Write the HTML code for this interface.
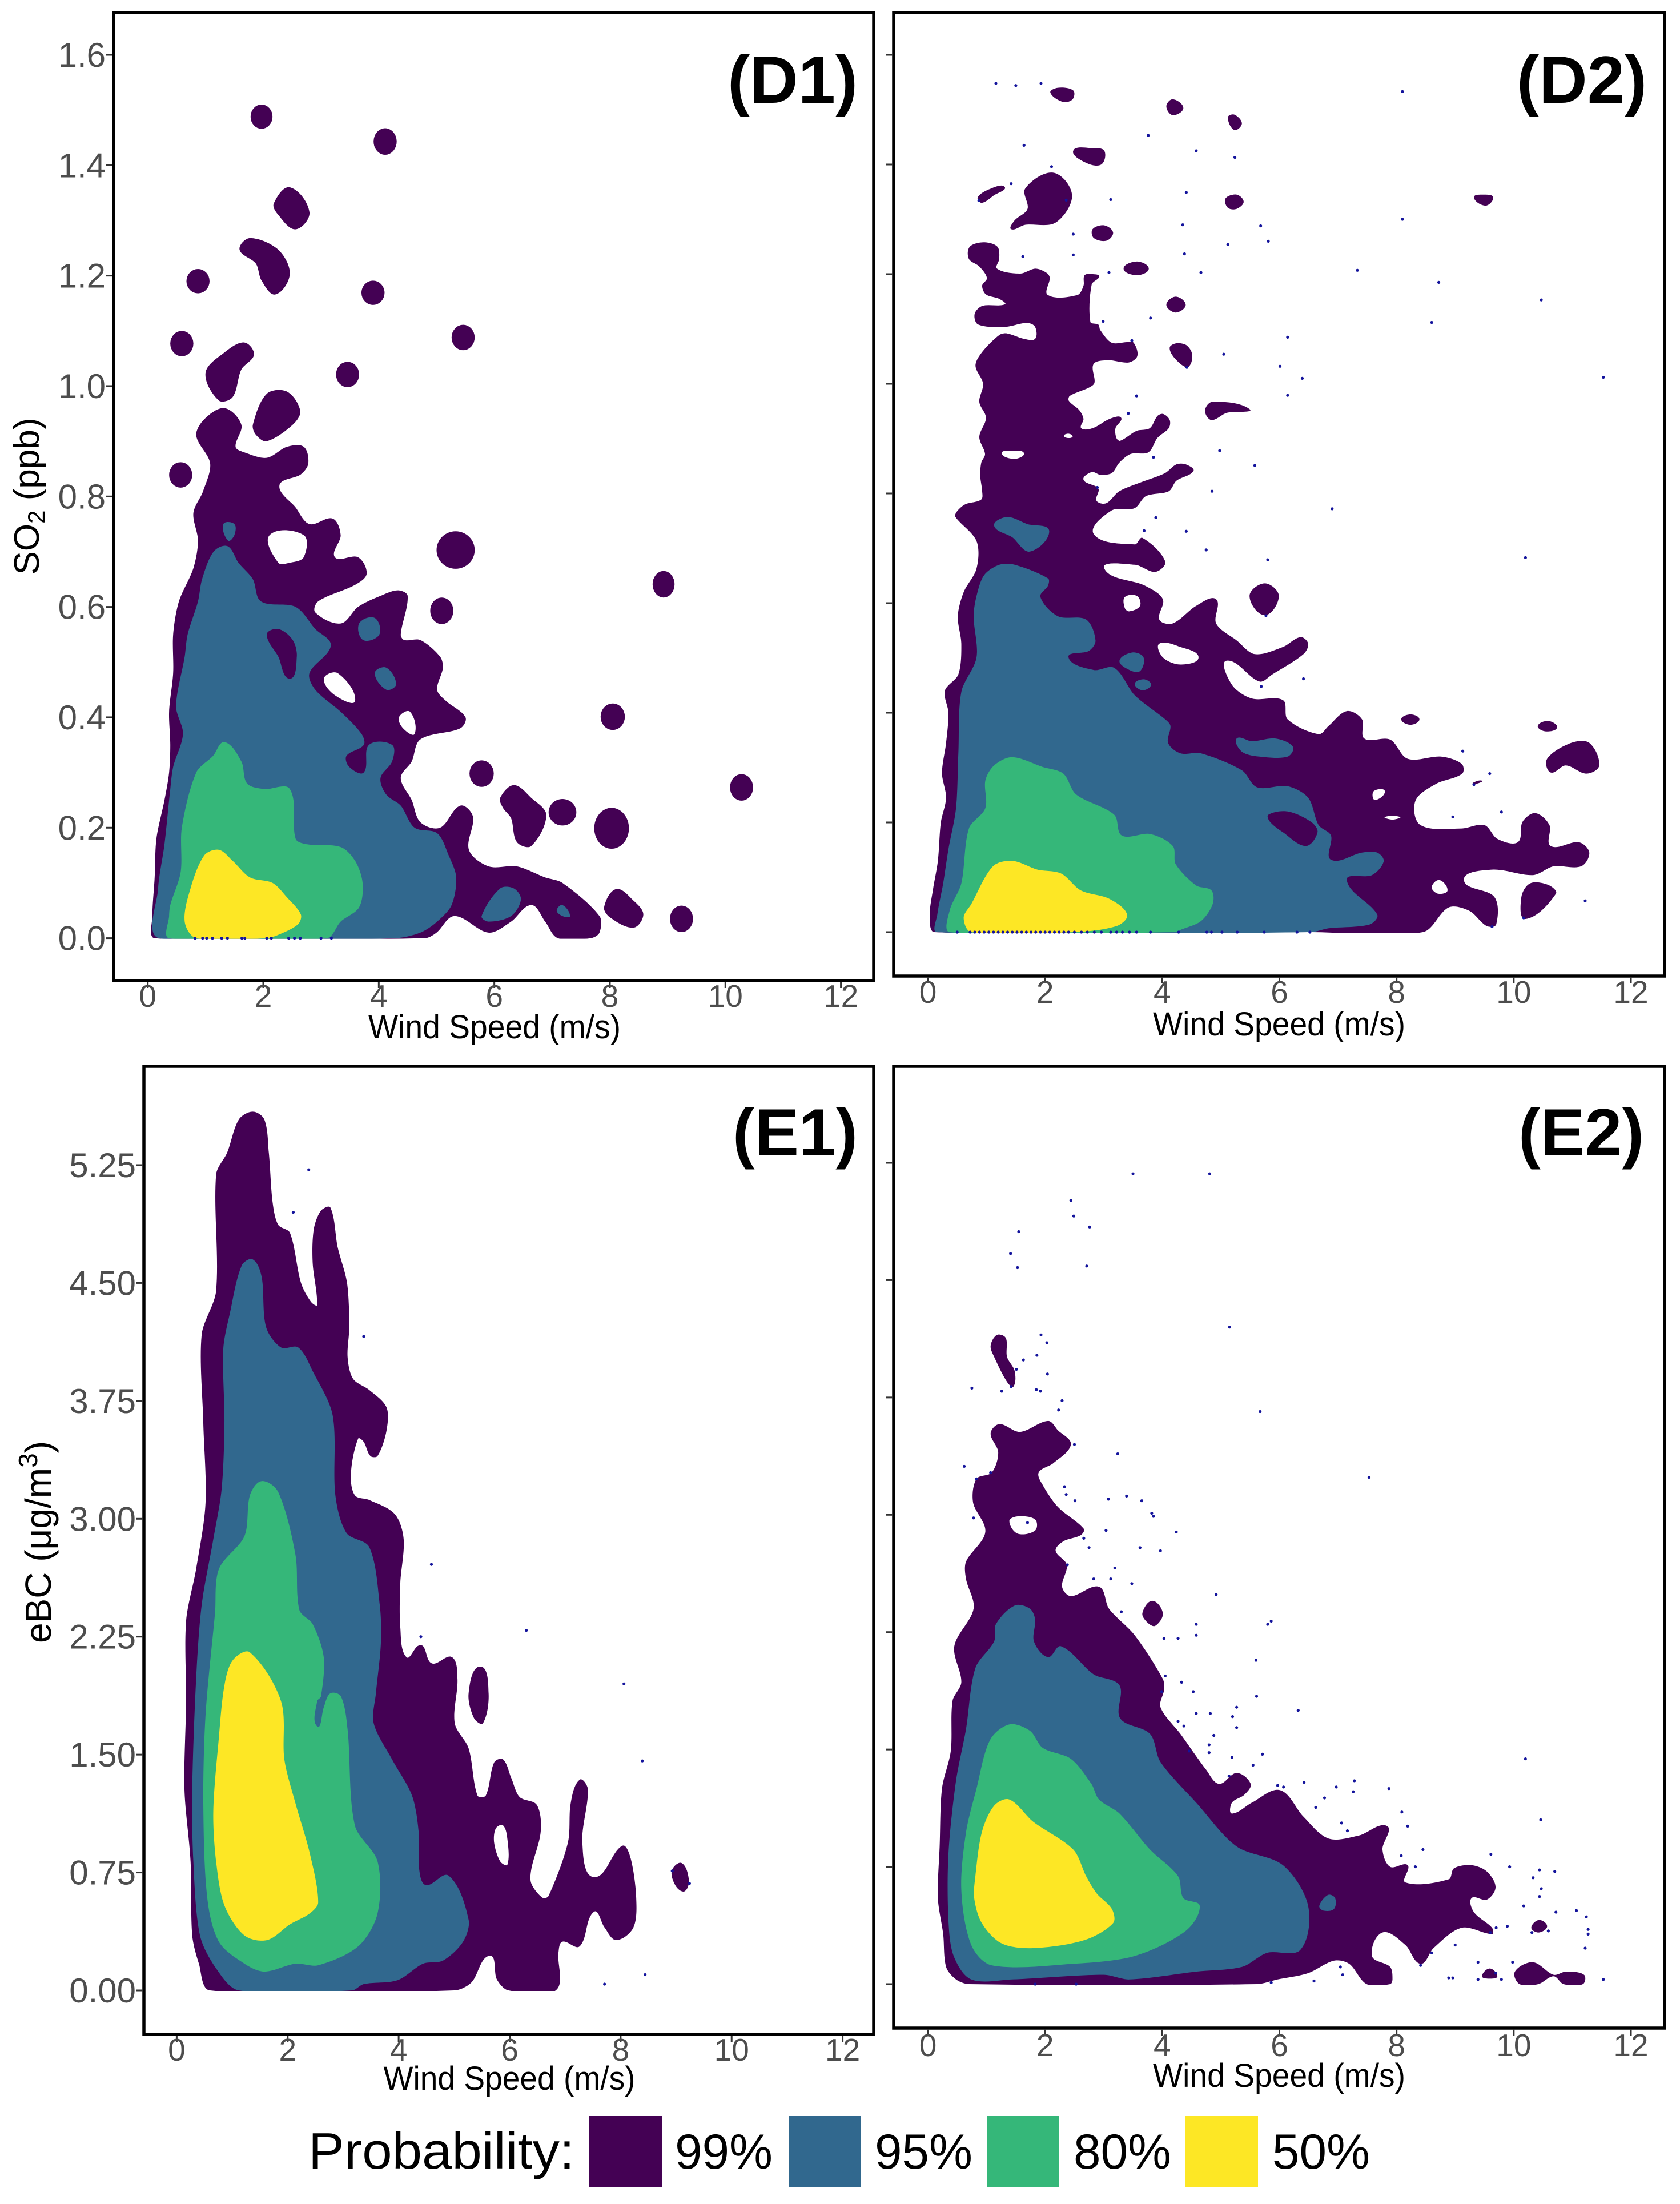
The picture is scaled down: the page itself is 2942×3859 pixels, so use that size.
<!DOCTYPE html>
<html>
<head>
<meta charset="utf-8">
<title>Wind speed density panels</title>
<style>
html,body{margin:0;padding:0;background:#fff;}
svg{display:block;font-family:"Liberation Sans",sans-serif;}
</style>
</head>
<body>
<svg id="chart" xmlns="http://www.w3.org/2000/svg" width="2942" height="3859" viewBox="0 0 2942 3859">
<rect x="0" y="0" width="2942" height="3859" fill="#fff"/>
<g id="marks"></g>
<g font-weight="bold" font-size="117" fill="#000">
<text x="1274" y="180" textLength="228" lengthAdjust="spacingAndGlyphs">(D1)</text>
<text x="2656" y="180" textLength="228" lengthAdjust="spacingAndGlyphs">(D2)</text>
<text x="1283" y="2023" textLength="219" lengthAdjust="spacingAndGlyphs">(E1)</text>
<text x="2659" y="2023" textLength="220" lengthAdjust="spacingAndGlyphs">(E2)</text>
</g>
<g font-size="58" fill="#000">
<text x="866" y="1818" text-anchor="middle" textLength="442" lengthAdjust="spacingAndGlyphs">Wind Speed (m/s)</text>
<text x="2240" y="1813" text-anchor="middle" textLength="442" lengthAdjust="spacingAndGlyphs">Wind Speed (m/s)</text>
<text x="892" y="3659" text-anchor="middle" textLength="441" lengthAdjust="spacingAndGlyphs">Wind Speed (m/s)</text>
<text x="2240" y="3654" text-anchor="middle" textLength="442" lengthAdjust="spacingAndGlyphs">Wind Speed (m/s)</text>
<text transform="translate(68,869) rotate(-90)" text-anchor="middle" font-size="62">SO<tspan font-size="42" dy="10">2</tspan><tspan dy="-10"> (ppb)</tspan></text>
<text transform="translate(89,2700) rotate(-90)" text-anchor="middle" font-size="64">eBC (μg/m<tspan font-size="46" dy="-24">3</tspan><tspan dy="24">)</tspan></text>
</g>
<g>
<text x="540" y="3797" font-size="90" textLength="466" lengthAdjust="spacingAndGlyphs" fill="#000">Probability:</text>
<rect x="1032" y="3705" width="127" height="124" fill="#440154"/>
<text x="1182" y="3797" font-size="86" textLength="171" lengthAdjust="spacingAndGlyphs" fill="#000">99%</text>
<rect x="1381" y="3705" width="126" height="124" fill="#31688E"/>
<text x="1532" y="3797" font-size="86" textLength="171" lengthAdjust="spacingAndGlyphs" fill="#000">95%</text>
<rect x="1728" y="3705" width="127" height="124" fill="#35B779"/>
<text x="1880" y="3797" font-size="86" textLength="171" lengthAdjust="spacingAndGlyphs" fill="#000">80%</text>
<rect x="2075" y="3705" width="128" height="124" fill="#FDE725"/>
<text x="2228" y="3797" font-size="86" textLength="171" lengthAdjust="spacingAndGlyphs" fill="#000">50%</text>
</g>
</svg>
<script>
// Tick values
const xTickValues = [0, 2, 4, 6, 8, 10, 12];
const so2TickValues = [0, 0.2, 0.4, 0.6, 0.8, 1.0, 1.2, 1.4, 1.6];
const so2TickLabels = ["0.0", "0.2", "0.4", "0.6", "0.8", "1.0", "1.2", "1.4", "1.6"];
const ebcTickValues = [0, 0.75, 1.5, 2.25, 3, 3.75, 4.5, 5.25];
const ebcTickLabels = ["0.00", "0.75", "1.50", "2.25", "3.00", "3.75", "4.50", "5.25"];

// Contours in data units: flat lists wind,value,wind,value...
const d1Level99 = [
[.12,0,.08,.04,.12,.11,.15,.18,.29,.25,.37,.3,.39,.35,.37,.41,.44,.48,.44,.55,.54,.61,.79,.67,.87,.72,.79,.77,.96,.81,1.08,.86,.84,.91,.98,.94,1.33,.96,1.62,.93,1.52,.89,1.67,.88,2.06,.87,2.41,.89,2.7,.89,2.78,.86,2.65,.84,2.28,.82,2.56,.78,2.8,.75,3.2,.76,3.34,.73,3.24,.69,3.64,.69,3.79,.66,3.59,.64,2.95,.61,2.9,.59,3.34,.57,3.64,.6,4.03,.62,4.33,.63,4.5,.62,4.38,.55,4.44,.54,4.72,.54,5.06,.51,5.11,.49,5.01,.45,5.16,.43,5.5,.4,5.41,.38,4.72,.36,4.57,.32,4.38,.29,4.57,.25,4.72,.21,5.06,.2,5.41,.24,5.63,.22,5.56,.16,5.9,.13,6.39,.13,6.88,.11,7.18,.10,7.82,.04,7.82,.01,7.67,0,7.1,0,6.88,.03,6.64,.06,6.29,.03,5.9,.01,5.31,.04,5.0,.01,4.8,0],
[2.11,.73,2.7,.73,2.7,.69,2.46,.68,2.26,.68],
[3.05,.47,3.29,.48,3.59,.43,3.24,.44],
[4.35,.40,4.54,.41,4.62,.37,4.42,.38],
[2.18,1.33,2.46,1.36,2.8,1.315,2.56,1.284,2.26,1.31],
[1.59,1.247,1.77,1.268,2.26,1.247,2.46,1.203,2.21,1.166,1.97,1.191,1.87,1.222],
[1.0,1.024,1.33,1.061,1.67,1.079,1.84,1.057,1.62,1.03,1.47,.98,1.23,.974],
[1.82,.93,2.06,.986,2.41,.99,2.64,.955,2.51,.93,2.06,.9,1.87,.912],
[6.1,.254,6.34,.277,6.64,.254,6.9,.223,6.64,.167,6.39,.174,6.29,.217,6.15,.236],
[7.9,.056,8.11,.089,8.41,.068,8.58,.043,8.41,.019,8.01,.037]
];
const d1Blobs99 = [
[1.97,1.488,.19,.022],[4.11,1.443,.2,.024],[.87,1.19,.2,.022],[3.9,1.169,.2,.022],[.59,1.077,.2,.023],[5.46,1.088,.2,.023],[3.46,1.021,.2,.023],[.57,.839,.2,.023],[8.93,.641,.19,.024],[5.09,.593,.2,.024],[8.05,.401,.21,.024],[5.78,.298,.21,.024],[10.28,.273,.2,.024],[7.18,.228,.24,.024],[8.03,.199,.3,.037],[9.24,.035,.2,.024],[5.33,.703,.33,.034]
];
const d1Level95 = [
[.2,0,.18,.09,.29,.17,.39,.27,.44,.31,.61,.37,.49,.42,.64,.51,.69,.55,.87,.61,.94,.65,1.14,.70,1.38,.71,1.57,.68,1.82,.65,1.96,.61,2.56,.6,2.9,.56,3.17,.53,2.8,.48,2.9,.45,3.34,.41,3.7,.37,3.74,.35,3.44,.33,3.49,.31,3.74,.30,3.83,.35,4.23,.35,4.23,.32,4.03,.29,4.13,.26,4.38,.24,4.62,.2,5.01,.19,5.21,.15,5.34,.11,5.26,.06,5.01,.03,4.72,.01,4.28,0],
[2.06,.55,2.26,.56,2.51,.54,2.58,.51,2.46,.47,2.26,.51],
[1.31,.75,1.5,.75,1.5,.73,1.39,.72],
[3.66,.57,3.93,.58,4.01,.55,3.73,.54],
[3.93,.48,4.13,.49,4.3,.46,4.13,.45],
[5.78,.04,6.1,.09,6.34,.09,6.46,.07,6.29,.04,5.9,.03],
[7.08,.05,7.18,.06,7.31,.04,7.18,.04]
];
const d1Level80 = [
[.37,0,.37,.04,.39,.06,.57,.12,.59,.2,.84,.3,1.13,.33,1.33,.355,1.62,.32,1.72,.28,2.02,.27,2.46,.27,2.56,.18,2.76,.17,3.34,.165,3.59,.14,3.72,.1,3.66,.056,3.34,.03,3.1,0]
];
const d1Level50 = [
[.64,.03,.74,.09,.98,.15,1.23,.16,1.47,.14,1.77,.11,2.16,.1,2.41,.074,2.65,.043,2.6,.025,2.26,.006,2.06,0,.84,0]
];
const d1PointsX = [.82,.95,1.02,1.12,1.28,1.38,1.63,1.68,2.06,2.14,2.44,2.54,2.64,3.0,3.18];
const d1PointsY = [0,0,0,0,0,0,0,0,0,0,0,0,0,0,0];

const d2Level99 = [
[.11,0,.03,.03,.09,.08,.17,.13,.22,.2,.31,.245,.24,.29,.31,.345,.35,.4,.29,.44,.52,.47,.57,.526,.51,.576,.61,.62,.83,.663,.83,.713,.47,.757,.487,.766,.634,.78,.91,.789,.926,.804,.893,.832,.91,.856,.975,.872,.877,.903,.991,.938,.877,.967,.942,1.0,.812,1.033,.926,1.058,1.218,1.089,1.348,1.092,1.641,1.082,1.829,1.082,1.829,1.104,1.69,1.111,1.316,1.104,.861,1.108,.796,1.127,.926,1.142,1.316,1.145,1.218,1.155,.991,1.163,.926,1.179,1.007,1.193,.877,1.214,.698,1.228,.715,1.25,.958,1.258,1.186,1.25,1.218,1.228,1.18,1.21,1.576,1.201,1.836,1.21,2.031,1.202,2.08,1.193,2.047,1.162,2.551,1.162,2.655,1.179,2.674,1.198,2.811,1.2,2.925,1.196,2.795,1.181,2.772,1.113,2.908,1.108,2.941,1.098,3.136,1.075,3.396,1.076,3.51,1.075,3.575,1.051,3.428,1.039,3.071,1.043,2.827,1.036,2.843,1.002,2.746,.993,2.421,.978,2.405,.969,2.583,.952,2.655,.936,2.616,.919,2.811,.919,3.103,.936,3.298,.938,3.201,.919,3.217,.901,3.282,.896,3.558,.914,3.786,.919,3.916,.941,4.013,.945,4.127,.934,4.111,.919,3.916,.901,3.763,.875,3.461,.872,3.266,.856,3.136,.837,2.941,.834,2.795,.839,2.655,.825,2.908,.809,2.876,.787,3.039,.782,3.266,.804,3.656,.821,4.046,.837,4.241,.853,4.403,.853,4.533,.841,4.241,.823,4.111,.804,3.721,.795,3.526,.773,3.136,.769,2.83,.726,3.53,.707,3.66,.719,4.05,.676,3.88,.657,3.53,.67,3.01,.663,3.7,.632,4.01,.607,3.95,.57,4.18,.563,4.58,.595,4.92,.607,4.92,.563,5.27,.532,5.58,.507,6.06,.52,6.36,.538,6.49,.526,6.41,.507,5.88,.47,5.66,.457,5.1,.495,5.19,.451,5.53,.426,6.06,.423,6.14,.388,6.67,.361,6.84,.376,7.15,.403,7.41,.388,7.45,.353,7.89,.351,8.19,.316,8.76,.32,9.11,.307,9.12,.289,8.67,.27,8.32,.239,8.41,.195,9.11,.189,9.5,.195,9.72,.17,10.07,.164,10.15,.201,10.37,.217,10.61,.195,10.63,.157,11.11,.164,11.29,.145,11.15,.12,10.68,.12,10.33,.104,9.63,.114,9.15,.095,9.67,.064,9.7,.014,9.54,.011,9.24,.039,8.89,.045,8.45,0,6.54,0],
[1.26,.873,1.45,.878,1.64,.873,1.48,.863],
[2.32,.905,2.4,.909,2.47,.904,2.4,.901],
[3.36,.611,3.57,.613,3.62,.595,3.44,.585,3.36,.591],
[3.95,.526,4.31,.52,4.62,.501,4.31,.488,4.01,.501],
[7.61,.257,7.8,.257,7.63,.241],
[7.8,.21,8.06,.21,7.93,.205],
[8.6,.082,8.73,.095,8.87,.076,8.71,.07],
[2.09,1.531,2.22,1.54,2.48,1.535,2.47,1.519,2.31,1.514],
[4.07,1.506,4.18,1.519,4.36,1.503,4.18,1.49],
[5.12,1.486,5.23,1.491,5.36,1.475,5.23,1.463],
[2.48,1.425,2.79,1.43,3.01,1.425,2.96,1.4,2.7,1.403],
[.85,1.34,1.05,1.355,1.31,1.359,1.13,1.344,.92,1.33],
[1.66,1.356,2.14,1.385,2.46,1.344,2.18,1.294,1.66,1.29,1.42,1.282,1.48,1.298,1.7,1.319],
[5.08,1.338,5.27,1.345,5.39,1.332,5.27,1.319,5.12,1.321],
[9.32,1.34,9.5,1.345,9.65,1.34,9.52,1.325],
[2.81,1.282,3.01,1.289,3.16,1.276,3.05,1.261,2.83,1.266],
[3.34,1.21,3.57,1.223,3.77,1.21,3.57,1.198],
[4.07,1.144,4.23,1.159,4.4,1.144,4.23,1.13],
[4.127,1.066,4.241,1.074,4.403,1.071,4.5,1.058,4.5,1.04,4.42,1.03,4.21,1.047],
[4.73,.951,4.85,.967,5.49,.954,5.1,.947,4.84,.934],
[5.49,.613,5.75,.636,5.99,.613,5.75,.578],
[8.08,.388,8.24,.397,8.39,.388,8.24,.378],
[10.41,.376,10.59,.385,10.74,.373,10.54,.366],
[10.57,.316,10.98,.345,11.29,.345,11.46,.304,11.24,.289,10.89,.304,10.63,.291],
[10.13,.064,10.28,.089,10.59,.086,10.72,.07,10.2,.024],
[9.3,.272,9.46,.276,9.35,.27]
];
const d2Blobs99 = [];
const d2Level95 = [
[.15,0,.16,.032,.26,.089,.35,.151,.48,.226,.52,.326,.57,.438,.83,.501,.78,.576,.83,.613,.96,.651,1.22,.67,1.48,.67,2.05,.645,2.05,.632,1.92,.611,2.22,.576,2.7,.57,2.86,.532,2.75,.513,2.4,.501,2.83,.478,3.18,.482,3.53,.432,4.05,.388,4.14,.376,4.1,.345,4.31,.326,4.66,.326,5.36,.295,5.62,.264,6.14,.266,6.49,.245,6.67,.195,6.88,.176,6.88,.132,7.41,.145,7.67,.145,7.78,.129,7.58,.104,7.15,.095,7.67,.032,7.54,.014,6.84,.007,6.54,0],
[5.81,.214,6.14,.22,6.54,.201,6.65,.182,6.45,.157,6.06,.182,5.84,.201],
[1.13,.741,1.35,.757,1.7,.744,2.07,.732,1.74,.694,1.44,.72],
[3.27,.495,3.49,.51,3.68,.501,3.62,.476,3.44,.478],
[3.53,.453,3.69,.461,3.81,.451,3.66,.441],
[5.27,.353,5.53,.348,5.93,.353,6.23,.338,6.14,.32,5.66,.32,5.36,.329]
];
const d2Level80 = [
[.37,0,.37,.039,.57,.089,.7,.189,.98,.226,.98,.276,1.13,.304,1.44,.319,1.96,.301,2.31,.289,2.53,.251,3.18,.214,3.31,.176,3.79,.179,4.18,.157,4.23,.124,4.58,.085,4.84,.076,4.86,.051,4.66,.02,4.31,.004,4.23,0]
];
const d2Level50 = [
[.61,.026,.74,.051,1.11,.12,1.44,.13,1.87,.114,2.27,.107,2.61,.076,3.09,.061,3.4,.032,3.22,.011,2.48,0,.74,0]
];
const d2PointsX = [1.16,1.5,1.93,8.1,3.76,1.64,4.58,5.24,2.11,1.42,4.41,3.12,2.36,.87,5.68,4.35,8.1,2.48,5.81,5.12,1.62,2.48,4.38,3.09,4.66,7.33,8.72,10.47,2.99,3.8,8.6,3.48,6.14,5.05,6.01,4.42,6.39,11.53,3.56,6.14,3.42,4.98,3.85,5.58,2.89,4.85,6.9,3.89,3.69,4.41,4.75,5.8,10.2,5.77,5.69,6.41,9.13,9.59,9.32,8.96,9.79,11.22,9.63,10.17,
.5,.72,.8,.88,.96,1.04,1.12,1.2,1.28,1.36,1.44,1.52,1.6,1.68,1.76,1.84,1.92,2.0,2.08,2.16,2.24,2.32,2.4,2.5,2.62,2.72,2.84,2.96,3.12,3.22,3.32,3.44,3.56,3.8,4.28,4.76,4.84,5.02,5.28,5.74,6.3,6.52];
const d2PointsY = [1.548,1.544,1.548,1.533,1.453,1.435,1.425,1.413,1.396,1.365,1.349,1.336,1.335,1.334,1.288,1.29,1.3,1.273,1.26,1.254,1.232,1.235,1.237,1.203,1.203,1.207,1.185,1.153,1.114,1.12,1.112,1.079,1.085,1.054,1.032,1.03,1.01,1.012,.978,.979,.946,.878,.866,.851,.811,.804,.772,.756,.732,.731,.697,.679,.683,.577,.448,.462,.33,.289,.269,.21,.219,.057,.01,.026,
0,0,0,0,0,0,0,0,0,0,0,0,0,0,0,0,0,0,0,0,0,0,0,0,0,0,0,0,0,0,0,0,0,0,0,0,0,0,0,0,0,0];

const e1Level99 = [
[.6,0,.4,.17,.28,.35,.25,.82,.14,1.28,.17,1.84,.17,2.35,.35,2.68,.52,3.1,.48,3.61,.45,4.17,.71,4.45,.71,5.19,.91,5.33,1.12,5.54,1.37,5.59,1.58,5.54,1.66,5.33,1.73,5.01,1.83,4.87,2.04,4.82,2.24,4.5,2.42,4.38,2.53,4.36,2.45,4.63,2.47,4.84,2.6,4.96,2.77,4.98,2.9,4.73,3.07,4.5,3.11,4.22,3.08,4.03,3.18,3.89,3.47,3.82,3.78,3.71,3.78,3.56,3.62,3.4,3.49,3.4,3.37,3.49,3.27,3.51,3.14,3.29,3.21,3.15,3.47,3.12,3.93,3.03,4.09,2.87,4.03,2.59,4.03,2.31,4.14,2.12,4.34,2.19,4.44,2.19,4.6,2.08,4.96,2.12,5.06,1.98,5.01,1.7,5.26,1.54,5.42,1.24,5.57,1.24,5.72,1.45,5.88,1.47,6.03,1.35,6.18,1.23,6.49,1.18,6.56,1.01,6.39,.77,6.39,.68,6.59,.59,6.7,.6,7.05,.94,7.1,1.19,7.26,1.34,7.41,1.28,7.31,.94,7.52,.72,8.03,.92,8.18,.84,8.28,.59,8.23,.4,7.92,.32,7.71,.4,7.52,.5,7.26,.28,6.95,.31,6.88,.24,6.83,0,5.98,0,5.77,.07,5.64,.22,5.31,.05,5.0,0],
[5.75,1.03,5.88,1.05,5.96,.96,5.96,.8,5.83,.82,5.72,.94],
[5.26,1.89,5.47,2.06,5.62,1.89,5.52,1.7,5.36,1.73],
[8.92,.76,9.1,.81,9.23,.7,9.15,.63,9.0,.66]
];
const e1Blobs99 = [];
const e1Level95 = [
[1.12,0,.71,.14,.42,.35,.3,.82,.28,1.28,.35,1.98,.45,2.45,.66,2.87,.81,3.19,.86,3.61,.84,4.08,.96,4.31,1.17,4.61,1.37,4.65,1.53,4.54,1.61,4.22,1.88,4.09,2.19,4.09,2.45,3.94,2.81,3.66,2.86,3.15,3.06,2.91,3.47,2.82,3.66,2.45,3.68,2.21,3.59,1.89,3.55,1.7,3.88,1.47,4.24,1.24,4.36,1.01,4.37,.77,4.49,.67,4.9,.73,5.26,.45,5.16,.31,4.8,.19,4.44,.17,3.98,.065,3.37,.04,3.16,0]
];
const e1Level80 = [
[.48,1.19,.52,1.75,.69,2.4,.76,2.68,1.22,2.89,1.32,3.15,1.53,3.24,1.83,3.17,2.14,2.77,2.21,2.42,2.45,2.33,2.65,2.12,2.6,1.87,2.53,1.84,2.53,1.68,2.65,1.8,2.77,1.89,2.96,1.87,3.08,1.66,3.21,1.05,3.62,.82,3.62,.49,3.27,.28,2.55,.16,2.14,.17,1.58,.12,1.22,.17,.76,.31,.55,.59]
];
const e1Level50 = [
[.66,1.14,.76,1.61,.86,1.94,1.01,2.1,1.32,2.15,1.88,1.84,1.94,1.47,2.14,1.19,2.4,.87,2.55,.56,2.4,.49,2.04,.42,1.63,.32,1.22,.35,.86,.54,.71,.82]
];
const e1PointsX = [2.38,2.1,3.37,4.59,4.4,6.3,8.06,8.39,8.44,7.71,9.24,8.93];
const e1PointsY = [5.22,4.95,4.16,2.71,2.25,2.29,1.95,1.46,.1,.04,.68,.76];

const e2Level99 = [
[.48,.03,.31,.11,.26,.32,.17,.55,.2,.88,.24,1.25,.39,1.49,.42,1.81,.57,1.93,.45,2.16,.78,2.4,.65,2.59,.65,2.7,.98,2.89,.77,3.08,.83,3.23,1.09,3.27,1.2,3.4,1.07,3.52,1.22,3.58,1.57,3.53,2.05,3.6,2.22,3.54,2.44,3.45,2.14,3.33,1.89,3.27,1.96,3.19,2.22,3.05,2.66,2.91,2.61,2.87,2.31,2.83,2.18,2.77,2.37,2.68,2.29,2.54,2.44,2.48,2.92,2.54,3.09,2.4,3.53,2.23,4.01,1.95,4.03,1.88,3.97,1.77,4.31,1.6,4.75,1.37,4.97,1.28,5.27,1.35,5.51,1.28,5.4,1.21,5.19,1.16,5.19,1.09,5.53,1.16,6.01,1.24,6.41,1.07,6.84,.93,7.36,.95,7.84,1.01,7.76,.86,7.89,.75,8.19,.76,8.15,.65,8.89,.67,8.98,.74,9.28,.76,9.54,.72,9.69,.62,9.54,.54,9.28,.55,9.32,.46,9.63,.36,9.63,.32,9.11,.36,8.63,.23,8.41,.13,8.15,.25,7.76,.33,7.58,.18,7.89,.11,7.93,.03,7.89,0,7.49,0,7.19,.13,6.93,.15,6.49,.07,5.97,.03,5.62,0,.7,0],
[1.39,2.96,1.53,2.99,1.83,2.97,1.83,2.9,1.53,2.88],
[1.07,4.08,1.18,4.15,1.33,4.13,1.35,4.01,1.48,3.92,1.46,3.82,1.35,3.85,1.13,4.01],
[3.66,2.37,3.83,2.45,4.01,2.37,3.88,2.29,3.75,2.31],
[10.3,.36,10.43,.41,10.57,.37,10.43,.33],
[9.46,.05,9.59,.1,9.72,.05,9.59,.035],
[10.02,.08,10.33,.14,10.68,.06,10.89,.08,11.2,.06,11.18,0,10.85,0,10.68,.05,10.42,0,10.1,0]
];
const e2Blobs99 = [];
const e2Level95 = [
[.74,.03,.44,.18,.35,.41,.35,.83,.48,1.3,.65,1.63,.81,2.02,1.13,2.19,1.16,2.3,1.48,2.42,1.74,2.4,1.83,2.33,1.81,2.19,2.05,2.09,2.27,2.16,2.83,1.98,3.27,1.91,3.28,1.7,3.79,1.6,3.97,1.42,4.58,1.16,5.27,.88,6.06,.76,6.49,.5,6.36,.22,5.79,.2,5.36,.11,4.58,.08,3.44,.03,3.0,.06,1.44,.03],
[6.68,.5,6.83,.57,6.95,.55,6.93,.48,6.75,.47]
];
const e2Level80 = [
[.57,.6,.65,.97,.83,1.25,1.06,1.56,1.39,1.66,1.74,1.62,1.96,1.51,2.44,1.44,2.79,1.28,2.92,1.18,3.27,1.09,3.79,.86,4.27,.69,4.36,.55,4.64,.5,4.4,.34,3.53,.18,2.48,.13,1.09,.12,.74,.25]
];
const e2Level50 = [
[.81,.69,.92,.97,1.13,1.14,1.39,1.18,1.79,1.04,2.48,.86,2.7,.69,2.88,.58,3.14,.48,3.16,.39,2.66,.28,1.79,.23,1.26,.26,.92,.39,.79,.55]
];
const e2PointsX = [3.5,4.81,2.44,2.49,2.76,1.55,1.41,1.53,2.71,5.15,1.93,2.03,1.86,1.63,1.51,2.04,.75,1.26,1.42,1.85,1.92,2.29,2.23,5.67,2.5,3.24,.62,1.07,7.53,.83,2.33,2.36,2.51,3.08,3.39,3.65,3.82,3.85,.78,1.7,3.04,4.24,2.66,2.75,3.62,3.97,2.38,3.19,3.12,2.83,3.48,4.92,3.3,4.58,5.8,5.86,4.58,4.03,4.27,5.6,4.05,4.33,3.99,4.53,5.61,6.32,4.27,4.58,4.82,5.27,5.2,4.37,5.27,4.88,4.8,4.46,4.8,5.19,5.71,5.55,5.14,5.97,6.07,6.42,6.97,7.28,7.26,7.87,6.77,6.62,10.2,8.09,7.06,8.19,7.16,10.46,8.45,8.08,9.61,8.32,9.93,10.44,10.7,10.33,10.47,10.44,10.17,10.72,11.07,11.24,9.7,9.89,10.59,11.27,11.27,9.6,10.31,8.6,9.0,11.22,7.04,7.08,8.41,8.89,8.96,9.39,9.98,9.39,9.69,9.79,11.53,6.59,5.86,2.53,1.83];
const e2PointsY = [5.18,5.18,5.01,4.91,4.84,4.81,4.67,4.58,4.59,4.2,4.15,4.1,4.02,3.99,3.93,3.9,3.81,3.79,3.82,3.8,3.79,3.73,3.67,3.66,3.45,3.39,3.31,3.27,3.24,3.23,3.18,3.13,3.09,3.1,3.12,3.09,3.01,2.99,2.98,2.95,2.9,2.89,2.85,2.79,2.79,2.77,2.68,2.66,2.59,2.59,2.56,2.49,2.38,2.3,2.3,2.32,2.23,2.21,2.21,2.07,1.97,1.93,1.87,1.87,1.84,1.75,1.68,1.73,1.73,1.77,1.71,1.65,1.64,1.59,1.53,1.49,1.48,1.45,1.47,1.4,1.33,1.27,1.26,1.29,1.26,1.3,1.23,1.25,1.19,1.13,1.44,1.1,1.03,1.01,.98,1.05,.86,.82,.83,.75,.75,.73,.72,.68,.61,.56,.5,.46,.47,.43,.36,.37,.34,.35,.32,.33,.33,.2,.25,.23,.11,.06,.12,.04,.04,.14,.14,.03,.07,.03,.03,.02,.01,0,0];

const levelColors = {l99: "#440154", l95: "#31688E", l80: "#35B779", l50: "#FDE725"};
const NS = "http://www.w3.org/2000/svg";
const root = document.getElementById("marks");

function makeXScale(zeroPx, twelvePx) {
  return function (v) { return zeroPx + (twelvePx - zeroPx) * v / 12; };
}
function makeYScale(zeroPx, topPx, topVal) {
  return function (v) { return zeroPx + (topPx - zeroPx) * v / topVal; };
}
function smoothRing(flat, sx, sy) {
  const pts = [];
  for (let i = 0; i < flat.length; i += 2) pts.push([sx(flat[i]), sy(flat[i + 1])]);
  const n = pts.length;
  const tan = pts.map(function (p, i) {
    const a = pts[(i - 1 + n) % n], b = pts[(i + 1) % n];
    const dx = b[0] - a[0], dy = b[1] - a[1];
    const len = Math.hypot(dx, dy) || 1;
    return [dx / len, dy / len];
  });
  let d = "M" + pts[0][0].toFixed(1) + " " + pts[0][1].toFixed(1);
  for (let i = 0; i < n; i++) {
    const j = (i + 1) % n;
    const a = pts[i], b = pts[j];
    const seg = Math.hypot(b[0] - a[0], b[1] - a[1]) * 0.3;
    d += "C" + (a[0] + tan[i][0] * seg).toFixed(1) + " " + (a[1] + tan[i][1] * seg).toFixed(1) + " " +
         (b[0] - tan[j][0] * seg).toFixed(1) + " " + (b[1] - tan[j][1] * seg).toFixed(1) + " " +
         b[0].toFixed(1) + " " + b[1].toFixed(1);
  }
  return d + "Z";
}

function drawPanel(cfg) {
  const sx = makeXScale(cfg.x0, cfg.x12);
  const sy = makeYScale(cfg.y0, cfg.yTop, cfg.yTopVal);
  const g = document.createElementNS(NS, "g");
  
  
  root.appendChild(g);

  const clip = document.createElementNS(NS, "clipPath");
  clip.setAttribute("id", "clip-" + cfg.id);
  const clipRect = document.createElementNS(NS, "rect");
  clipRect.setAttribute("x", cfg.left);
  clipRect.setAttribute("y", cfg.top);
  clipRect.setAttribute("width", cfg.right - cfg.left);
  clipRect.setAttribute("height", sy(0) - cfg.top + 1);
  clip.appendChild(clipRect);
  g.appendChild(clip);

  [["l99", cfg.l99], ["l95", cfg.l95], ["l80", cfg.l80], ["l50", cfg.l50]].forEach(function (lv) {
    const path = document.createElementNS(NS, "path");
    path.setAttribute("d", lv[1].map(function (r) { return smoothRing(r, sx, sy); }).join(""));
    path.setAttribute("fill", levelColors[lv[0]]);
    path.setAttribute("fill-rule", "evenodd");
    path.setAttribute("clip-path", "url(#clip-" + cfg.id + ")");
    
    
    g.appendChild(path);
    if (lv[0] === "l99") {
      cfg.blobs.forEach(function (b) {
        const el = document.createElementNS(NS, "ellipse");
        el.setAttribute("cx", sx(b[0]));
        el.setAttribute("cy", sy(b[1]));
        el.setAttribute("rx", Math.abs(sx(b[2]) - sx(0)));
        el.setAttribute("ry", Math.abs(sy(b[3]) - sy(0)));
        el.setAttribute("fill", levelColors.l99);
        
        
        g.appendChild(el);
      });
    }
  });

  cfg.px.forEach(function (v, i) {
    const c = document.createElementNS(NS, "circle");
    c.setAttribute("cx", sx(v));
    c.setAttribute("cy", sy(cfg.py[i]));
    c.setAttribute("r", 2.6);
    c.setAttribute("fill", "#14149c");
    
    
    g.appendChild(c);
  });

  const frame = document.createElementNS(NS, "rect");
  frame.setAttribute("x", cfg.left);
  frame.setAttribute("y", cfg.top);
  frame.setAttribute("width", cfg.right - cfg.left);
  frame.setAttribute("height", cfg.bottom - cfg.top);
  frame.setAttribute("fill", "none");
  frame.setAttribute("stroke", "#000");
  frame.setAttribute("stroke-width", 5.5);
  
  
  g.appendChild(frame);

  xTickValues.forEach(function (v) {
    const t = document.createElementNS(NS, "line");
    t.setAttribute("x1", sx(v));
    t.setAttribute("x2", sx(v));
    t.setAttribute("y1", cfg.bottom + 2);
    t.setAttribute("y2", cfg.bottom + 13);
    t.setAttribute("stroke", "#333");
    t.setAttribute("stroke-width", 3);
    
    
    g.appendChild(t);
    const lab = document.createElementNS(NS, "text");
    lab.setAttribute("x", sx(v));
    lab.setAttribute("y", cfg.xLabelY);
    lab.setAttribute("text-anchor", "middle");
    lab.setAttribute("font-size", 55);
    lab.setAttribute("fill", "#4d4d4d");
    lab.textContent = String(v);
    
    
    g.appendChild(lab);
  });

  cfg.yTicks.forEach(function (v, i) {
    const t = document.createElementNS(NS, "line");
    t.setAttribute("x1", cfg.left - 13);
    t.setAttribute("x2", cfg.left - 2);
    t.setAttribute("y1", sy(v));
    t.setAttribute("y2", sy(v));
    t.setAttribute("stroke", "#333");
    t.setAttribute("stroke-width", 3);
    
    
    g.appendChild(t);
    if (cfg.showY) {
      const lab = document.createElementNS(NS, "text");
      lab.setAttribute("x", cfg.left - 14);
      lab.setAttribute("y", sy(v) + 21);
      lab.setAttribute("text-anchor", "end");
      lab.setAttribute("font-size", 60);
      lab.setAttribute("fill", "#4d4d4d");
      lab.textContent = cfg.yLabels[i];
      
      
      g.appendChild(lab);
    }
  });
}

drawPanel({id: "d1", left: 199, right: 1530, top: 22, bottom: 1717, x0: 258.7, x12: 1472.6, y0: 1642.6, yTop: 96, yTopVal: 1.6, xLabelY: 1763, showY: true, yTicks: so2TickValues, yLabels: so2TickLabels, l99: d1Level99, l95: d1Level95, l80: d1Level80, l50: d1Level50, blobs: d1Blobs99, px: d1PointsX, py: d1PointsY});
drawPanel({id: "d2", left: 1565, right: 2915, top: 22, bottom: 1709, x0: 1625, x12: 2856, y0: 1632, yTop: 96, yTopVal: 1.6, xLabelY: 1756, showY: false, yTicks: so2TickValues, yLabels: so2TickLabels, l99: d2Level99, l95: d2Level95, l80: d2Level80, l50: d2Level50, blobs: d2Blobs99, px: d2PointsX, py: d2PointsY});
drawPanel({id: "e1", left: 252, right: 1530, top: 1867, bottom: 3562, x0: 309.4, x12: 1475.6, y0: 3485, yTop: 2040, yTopVal: 5.25, xLabelY: 3608, showY: true, yTicks: ebcTickValues, yLabels: ebcTickLabels, l99: e1Level99, l95: e1Level95, l80: e1Level80, l50: e1Level50, blobs: e1Blobs99, px: e1PointsX, py: e1PointsY});
drawPanel({id: "e2", left: 1565, right: 2915, top: 1867, bottom: 3551, x0: 1625, x12: 2856, y0: 3474, yTop: 2036, yTopVal: 5.25, xLabelY: 3600, showY: false, yTicks: ebcTickValues, yLabels: ebcTickLabels, l99: e2Level99, l95: e2Level95, l80: e2Level80, l50: e2Level50, blobs: e2Blobs99, px: e2PointsX, py: e2PointsY});
</script>
</body>
</html>
